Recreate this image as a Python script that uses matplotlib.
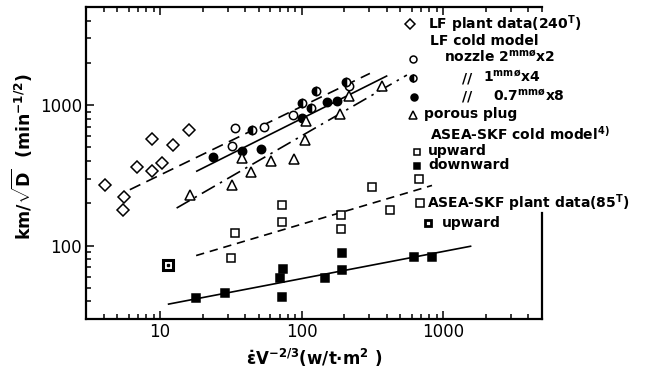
import matplotlib
matplotlib.use("Agg")
import matplotlib.pyplot as plt
from matplotlib.ticker import FixedLocator, NullFormatter
import numpy as np

plt.rcParams['font.family'] = ['DejaVu Sans']
plt.rcParams['mathtext.fontset'] = 'custom'
plt.rcParams['mathtext.rm'] = 'DejaVu Sans:bold'
plt.rcParams['mathtext.it'] = 'DejaVu Sans:bold'
plt.rcParams['mathtext.bf'] = 'DejaVu Sans:bold'

# LF plant data (240 t)
lf_x = [4.06, 5.57, 5.48, 6.83, 8.73, 10.3, 8.82, 12.4, 15.9]
lf_y = [268, 221, 178, 363, 339, 387, 572, 518, 663]

# LF cold model, nozzle 2mm x2 / 1mm x4 / 0.7mm x8
n2_x = [33.8, 32.4, 54.4, 86.4, 215]
n2_y = [693, 512, 700, 848, 1367]
n1_x = [44.5, 100, 117, 127, 207]
n1_y = [667, 1028, 947, 1259, 1468]
n07_x = [23.6, 37.7, 51.5, 100, 152, 178]
n07_y = [428, 472, 490, 807, 1050, 1068]

# porous plug
pp_x = [16.4, 32.4, 37.7, 43.7, 60.7, 88.9, 105, 108, 186, 217, 368]
pp_y = [230, 272, 423, 334, 398, 416, 562, 773, 862, 1159, 1367]

# ASEA-SKF cold model
up_x = [31.5, 33.8, 72.3, 72.6, 189, 191, 316, 422, 671, 690]
up_y = [81.7, 123, 147, 193, 132, 164, 261, 179, 296, 201]
dn_x = [18.0, 29.0, 70, 74.3, 72.6, 147, 193, 193, 628, 835]
dn_y = [42.0, 45.6, 58.4, 68.2, 42.8, 58.9, 88.1, 67.0, 82.4, 82.4]

# ASEA-SKF plant data (85 t), upward
pl_x = [11.3]
pl_y = [72.8]

# fitted lines (end points)
fit_n2_x, fit_n2_y = [6.12, 304], [250, 1683]
fit_n07_x, fit_n07_y = [18.2, 399], [339, 1611]
fit_pp_x, fit_pp_y = [13.1, 555], [185, 1638]
fit_up_x, fit_up_y = [18, 835], [84.9, 268]
fit_dn_x, fit_dn_y = [11.5, 1564], [38.3, 98.9]

W, H = 653, 374
fig = plt.figure(figsize=(W / 100, H / 100), dpi=100)
ax = fig.add_axes([86 / W, 1 - 319 / H, (542 - 86) / W, (319 - 7) / H])
ax.set_xscale('log')
ax.set_yscale('log')
ax.set_xlim(3, 5000)
ax.set_ylim(30, 5000)

lw = 1.2
ax.plot(fit_n2_x, fit_n2_y, color='k', lw=lw, dashes=(7, 4))
ax.plot(fit_n07_x, fit_n07_y, color='k', lw=lw)
ax.plot(fit_pp_x, fit_pp_y, color='k', lw=lw, dashes=(9, 3.5, 1.5, 3.5))
ax.plot(fit_up_x, fit_up_y, color='k', lw=lw, dashes=(5, 3.5))
ax.plot(fit_dn_x, fit_dn_y, color='k', lw=lw)

mk = dict(linestyle='none', color='k', markeredgewidth=1.1, clip_on=False)
ax.plot(lf_x, lf_y, marker='D', ms=6, mfc='white', **mk)
ax.plot(n2_x, n2_y, marker='o', ms=6, mfc='white', **mk)
ax.plot(n1_x, n1_y, marker='o', ms=6, fillstyle='left', mfc='k', mfcalt='white', **mk)
ax.plot(n07_x, n07_y, marker='o', ms=6, mfc='k', **mk)
ax.plot(pp_x, pp_y, marker='^', ms=7, mfc='white', **mk)
ax.plot(up_x, up_y, marker='s', ms=5.5, mfc='white', **mk)
ax.plot(dn_x, dn_y, marker='s', ms=6, mfc='k', **mk)
ax.plot(pl_x, pl_y, marker='s', ms=6.5, mfc='white', markeredgewidth=2.2,
        linestyle='none', color='k')
ax.plot(pl_x, pl_y, marker='s', ms=1.5, mfc='k', linestyle='none', color='k')

# axes frame and ticks
for s in ax.spines.values():
    s.set_linewidth(1.6)
ax.spines['right'].set_bounds(30, 170)

ax.xaxis.set_major_locator(FixedLocator([10, 100, 1000]))
ax.set_xticklabels(['10', '100', '1000'])
xminor = [m * 10 ** e for e in range(0, 4) for m in range(2, 10)]
ax.xaxis.set_minor_locator(FixedLocator([v for v in xminor if 3 <= v <= 5000]))
ax.yaxis.set_major_locator(FixedLocator([100, 1000]))
ax.set_yticklabels(['100', '1000'])
yminor = [m * 10 ** e for e in range(1, 4) for m in range(2, 10)]
ax.yaxis.set_minor_locator(FixedLocator([v for v in yminor if 30 <= v <= 5000]))
ax.xaxis.set_minor_formatter(NullFormatter())
ax.yaxis.set_minor_formatter(NullFormatter())
ax.tick_params(which='both', direction='in', top=True, right=False, width=1.1)
ax.tick_params(which='major', length=6, labelsize=12, pad=3)
ax.tick_params(which='minor', length=3.5)

ax.set_xlabel(r'$\dot{\varepsilon}$V$^{-2/3}$(w/t$\cdot$m$^{2}$ )',
              fontsize=12, fontweight='bold')
ax.set_ylabel(r'km/$\sqrt{\mathrm{D}}$  (min$^{-1/2}$)',
              fontsize=12.5, fontweight='bold')
ax.xaxis.set_label_coords(0.5, -0.09)
ax.yaxis.set_label_coords(-0.112, 0.52)

# key at the right
def px(x, y):
    return x / W, 1 - y / H

def key_marker(x, y, **kw):
    fx, fy = px(x, y)
    kw.setdefault('markeredgewidth', 1.1)
    ax.plot([fx], [fy], transform=fig.transFigure, clip_on=False,
            linestyle='none', color='k', **kw)

def key_text(x, y, s):
    fx, fy = px(x, y)
    fig.text(fx, fy, s, ha='left', va='center', fontsize=10,
             fontweight='bold')

key_marker(410, 24, marker='D', ms=5.5, mfc='white')
key_text(428, 24, r'LF plant data(240$^{\mathrm{T}}$)')
key_text(430, 41, 'LF cold model')
key_marker(413, 59, marker='o', ms=5, mfc='white')
key_text(444, 58, r'nozzle 2$^{\mathrm{mmø}}$x2')
key_marker(413, 78, marker='o', ms=5, fillstyle='left', mfc='k', mfcalt='white')
key_text(462, 78, '//')
key_text(483, 78, r'1$^{\mathrm{mmø}}$x4')
key_marker(414, 97, marker='o', ms=5, mfc='k')
key_text(462, 97, '//')
key_text(493, 97, r'0.7$^{\mathrm{mmø}}$x8')
key_marker(413, 115, marker='^', ms=5.5, mfc='white')
key_text(424, 114, 'porous plug')
key_text(430, 134, r'ASEA-SKF cold model$^{\mathrm{4)}}$')
key_marker(417, 152, marker='s', ms=4.5, mfc='white')
key_text(428, 151, 'upward')
key_marker(417, 166, marker='s', ms=4.5, mfc='k')
key_text(428, 165, 'downward')
key_text(427, 203, r'ASEA-SKF plant data(85$^{\mathrm{T}}$)')
key_marker(428, 223, marker='s', ms=5, mfc='white', markeredgewidth=2)
key_text(442, 223, 'upward')

fig.savefig('out.png', dpi=100)
